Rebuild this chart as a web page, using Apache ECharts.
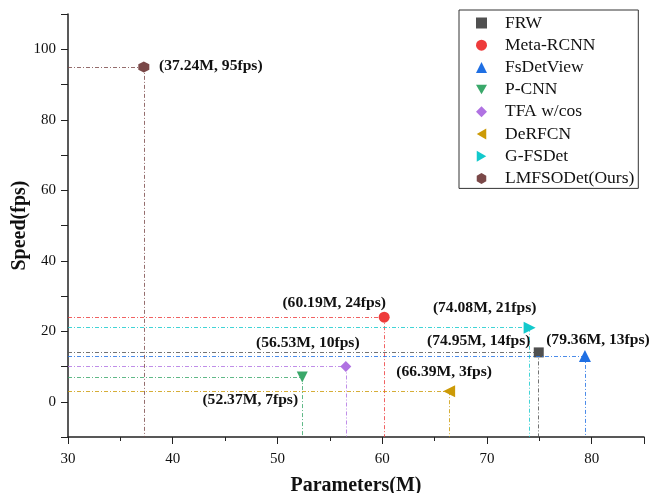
<!DOCTYPE html>
<html><head><meta charset="utf-8">
<script src="https://cdn.jsdelivr.net/npm/echarts@6/dist/echarts.min.js"></script>
<style>html,body{margin:0;padding:0;background:#fff}#c{width:664px;height:493px}</style>
</head><body><div id="c"></div>
<script>
const names = ['FRW','Meta-RCNN','FsDetView','P-CNN','TFA w/cos','DeRFCN','G-FSDet','LMFSODet(Ours)'];
const params = [74.95, 60.19, 79.36, 52.37, 56.53, 66.39, 74.08, 37.24];
const speeds = [14, 24, 13, 7, 10, 3, 21, 95];
const xTicks = [30, 40, 50, 60, 70, 80];
const yTicks = [0, 20, 40, 60, 80, 100];

const colors = ['#505050','#ee3b3b','#1f6fe3','#3aa86a','#b072e2','#cc9a06','#12c9cc','#7a4848'];
const symbols = ['rect','circle','triangle',
  'path://M0,0 L2,0 L1,1.73Z',
  'diamond',
  'path://M0,1 L1.73,0 L1.73,2Z',
  'path://M0,0 L1.73,1 L0,2Z',
  'path://M1,0 L1.866,0.5 L1.866,1.5 L1,2 L0.134,1.5 L0.134,0.5Z'];
const symSizes = [10, 11, 12, 11, 11, 12, 12, 11];
// label centre offset from the marker centre (px)
const labelOff = [[-60,-11],[-50,-14],[13,-16],[-52,23],[-38,-24],[-5,-19],[-45,-20],[67,-1]];

const xmin = 30, ymin = -10;
const series = names.map((n,i)=>({
  name: n, type: 'scatter',
  data: [[params[i], speeds[i]]],
  symbol: symbols[i], symbolSize: symSizes[i],
  itemStyle: {color: colors[i], opacity: 1},
  label: {show: true,
    position: [symSizes[i]/2 + labelOff[i][0], symSizes[i]/2 + labelOff[i][1]],
    align: 'center', verticalAlign: 'middle',
    formatter: '(' + params[i].toFixed(2) + 'M, ' + speeds[i] + 'fps)',
    fontFamily: 'Liberation Serif', fontWeight: 'bold', fontSize: 15.6, color: '#111'},
  markLine: {silent: true, symbol: 'none', animation: false,
    label: {show: false},
    lineStyle: {color: colors[i], width: 1, type: [4,2,1,2], opacity: 0.8},
    data: [
      [{coord: [xmin, speeds[i]]}, {coord: [params[i], speeds[i]]}],
      [{coord: [params[i], speeds[i]]}, {coord: [params[i], ymin]}]
    ]},
  z: 3
}));

const axisFont = {fontFamily: 'Liberation Serif', fontSize: 15, color: '#111'};
const nameFont = {fontFamily: 'Liberation Serif', fontWeight: 'bold', fontSize: 20, color: '#111'};

const chart = echarts.init(document.getElementById('c'));
chart.setOption({
  animation: false,
  grid: {left: 68, right: 20, top: 14, bottom: 56, outerBoundsMode: 'none', containLabel: false},
  legend: {
    orient: 'vertical', left: 459, top: 10,
    data: names, itemWidth: 11, itemHeight: 11, itemGap: 4.2,
    padding: [4, 4, 1, 17],
    borderColor: '#333', borderWidth: 1,
    textStyle: {fontFamily: 'Liberation Serif', fontSize: 17.5, color: '#111', padding: [0,0,0,13]}
  },
  xAxis: {
    type: 'value', min: 30, max: 85, interval: 10,
    name: 'Parameters(M)', nameLocation: 'middle', nameGap: 39, nameMoveOverlap: false,
    nameTextStyle: nameFont,
    axisLine: {show: true, onZero: false, lineStyle: {color: '#222', width: 1.5}},
    axisTick: {show: true, inside: false, length: 7, lineStyle: {color: '#222'}},
    minorTick: {show: true, splitNumber: 2, length: 4, lineStyle: {color: '#222'}},
    axisLabel: Object.assign({margin: 15, formatter: v => xTicks.includes(v) ? String(v) : ''}, axisFont),
    splitLine: {show: false}
  },
  yAxis: [{
    type: 'value', min: -10, max: 110, interval: 10,
    name: 'Speed(fps)', nameLocation: 'middle', nameGap: 38, nameMoveOverlap: false,
    nameTextStyle: nameFont,
    axisLine: {show: true, onZero: false, lineStyle: {color: '#222', width: 1.5}},
    axisTick: {show: true, inside: false, length: 7, lineStyle: {color: '#222'},
      interval: (idx, v) => yTicks.includes(Number(v))},
    axisLabel: Object.assign({margin: 12,
      interval: (idx, v) => yTicks.includes(Number(v)),
      formatter: v => yTicks.includes(v) ? String(v) : ''}, axisFont),
    splitLine: {show: false}
  }, {
    type: 'value', min: -10, max: 110, interval: 10, position: 'left',
    axisLine: {show: false},
    axisTick: {show: true, inside: false, length: 4, lineStyle: {color: '#222'}},
    axisLabel: {show: false},
    splitLine: {show: false}
  }],
  series: series
});
</script></body></html>
